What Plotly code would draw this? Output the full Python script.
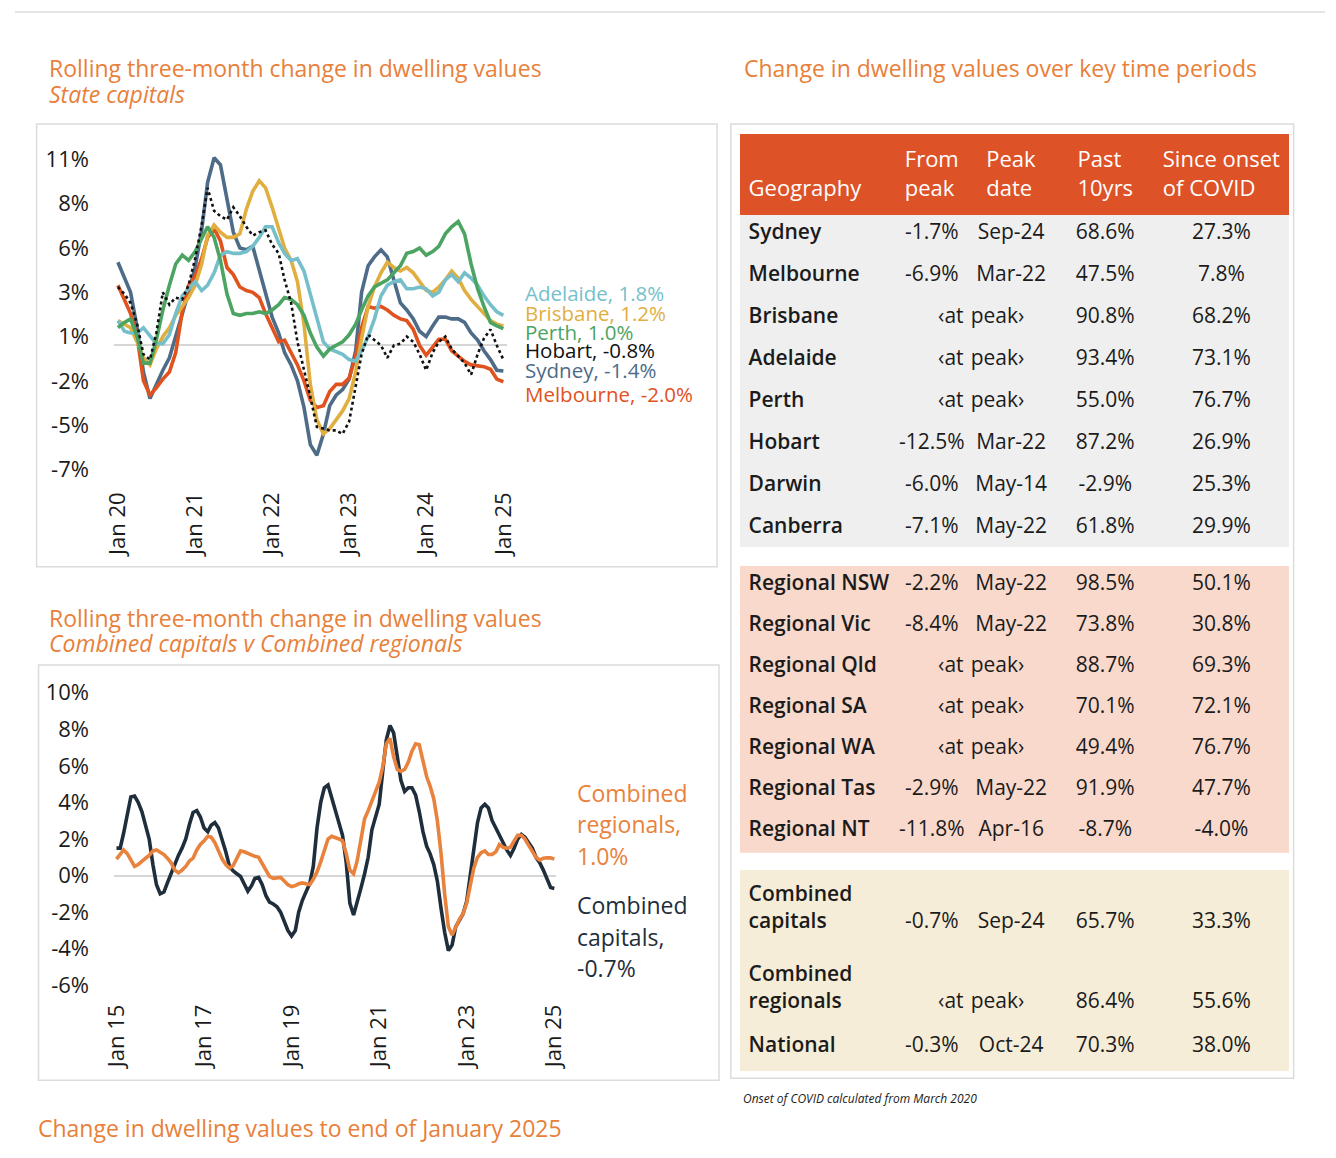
import pandas as pd
import plotly.graph_objects as go

# ======================= DATA =======================
# Rolling three-month change, state capitals (monthly, Jan-20 .. Jan-25)
cap_dates = pd.date_range("2020-01-01", "2025-01-01", freq="MS")
sydney = [4.7, 3.8, 3.0, 1.0, -1.5, -3.0, -2.2, -1.4, -0.7, 0.5,
          1.8, 3.0, 4.4, 6.5, 9.2, 10.6, 10.2, 8.3, 6.4, 5.5,
          5.4, 5.6, 4.2, 2.9, 1.6, 0.7, -0.4, -1.1, -2.0, -3.5,
          -5.6, -6.2, -5.0, -3.4, -2.8, -2.5, -1.9, -0.3, 3.0, 4.5,
          5.0, 5.4, 5.0, 3.7, 2.4, 2.0, 1.5, 0.8, 0.5, 1.1,
          1.6, 1.6, 1.5, 1.5, 1.3, 0.7, 0.3, -0.3, -0.8, -1.4, -1.45]
melbourne = [3.4, 2.6, 1.8, 0.5, -2.0, -2.8, -2.4, -1.9, -1.5, -0.4,
             1.9, 3.4, 3.9, 4.9, 6.1, 6.6, 5.9, 4.4, 4.0, 3.3,
             3.1, 3.0, 2.7, 1.8, 1.0, 0.2, 0.3, -0.4, -1.1, -2.0,
             -3.1, -3.5, -3.4, -2.6, -2.2, -2.2, -1.85, -0.6, 1.0, 2.2,
             2.1, 2.2, 2.0, 1.7, 1.5, 1.4, 0.9, 0.0, -0.55, -0.1,
             0.35, 0.35, -0.3, -0.6, -0.9, -1.1, -1.15, -1.2, -1.35, -1.9, -2.05]
brisbane = [1.4, 1.2, 1.0, 0.2, -0.7, -1.1, -0.2, 0.5, 1.0, 1.7,
            2.2, 2.7, 3.4, 4.6, 6.2, 6.8, 6.4, 6.1, 6.1, 6.3,
            7.7, 8.7, 9.3, 8.9, 7.8, 6.5, 5.5, 4.8, 3.6, 1.2,
            -2.2, -4.2, -5.0, -4.7, -4.2, -3.7, -3.0, -1.5, 0.4, 2.2,
            3.3, 4.1, 4.7, 4.4, 4.2, 4.4, 4.1, 3.6, 3.1, 3.0,
            3.3, 3.7, 4.2, 3.8, 3.1, 2.6, 2.2, 1.8, 1.4, 1.2, 1.1]
adelaide = [1.4, 0.8, 0.7, 0.7, 1.0, 0.5, 0.1, 0.1, 0.6, 1.8,
            2.8, 3.2, 3.6, 3.1, 3.4, 4.1, 5.1, 5.3, 5.2, 5.2,
            5.3, 5.6, 6.1, 6.7, 6.7, 5.8, 5.2, 4.8, 4.9, 4.2,
            2.9, 1.7, 0.2, -0.2, -0.35, -0.5, -0.8, -0.9, -0.3, 0.5,
            1.5, 2.8, 3.4, 3.6, 3.7, 3.2, 3.2, 3.3, 3.2, 2.8,
            3.0, 3.7, 4.0, 3.6, 4.1, 3.8, 3.4, 2.8, 2.3, 1.9, 1.7]
perth = [1.0, 1.3, 1.5, 0.5, -1.0, -1.0, 0.3, 2.0, 3.4, 4.6,
         5.1, 4.8, 5.3, 6.0, 6.7, 6.1, 4.8, 2.9, 1.8, 1.7,
         1.8, 1.8, 1.9, 1.8, 2.0, 2.3, 2.7, 2.6, 2.3, 1.7,
         0.7, -0.1, -0.6, -0.2, 0.0, 0.2, 0.6, 1.2, 2.0, 2.8,
         3.3, 3.5, 3.7, 4.1, 4.5, 5.2, 5.3, 5.5, 5.1, 5.3,
         5.6, 6.3, 6.7, 7.0, 6.3, 4.6, 3.2, 2.2, 1.3, 1.1, 0.95]
hobart = [3.3, 2.9, 2.4, 1.2, -0.5, -0.8, 0.7, 3.0, 2.3, 2.7,
          2.6, 3.4, 4.9, 6.8, 8.9, 7.6, 7.3, 7.1, 7.8, 7.3,
          6.7, 6.2, 6.4, 6.5, 5.7, 5.2, 3.7, 2.4, 0.2, -1.3,
          -2.9, -4.6, -4.7, -4.8, -4.8, -5.0, -4.3, -2.4, -0.5, 0.6,
          0.3, 0.0, -0.7, 0.0, 0.1, 0.5, 0.2, -0.5, -1.4, -0.4,
          0.2, 0.5, -0.2, -0.6, -1.0, -1.65, -0.5, 0.4, 0.9, 0.0, -0.8]

cap_names = ["Sydney", "Melbourne", "Brisbane", "Adelaide", "Perth", "Hobart"]
cap_values = [sydney, melbourne, brisbane, adelaide, perth, hobart]
# end-of-line labels (top to bottom)
cap_label_names = ["Adelaide", "Brisbane", "Perth", "Hobart", "Sydney", "Melbourne"]
cap_label_latest = ["1.8%", "1.2%", "1.0%", "-0.8%", "-1.4%", "-2.0%"]

top_tickvals = [-7, -4.5, -2, 0.5, 3, 5.5, 8, 10.5]
top_ticktext = ["-7%", "-5%", "-2%", "1%", "3%", "6%", "8%", "11%"]

# Combined capitals v combined regionals (monthly, Jan-15 .. Jan-25)
comb_dates = pd.date_range("2015-01-01", "2025-01-01", freq="MS")
combined_capitals = [
    1.5, 1.5, 2.3, 3.3, 4.3, 4.35, 4.0, 3.5, 2.8, 2.0,
    0.6, -0.5, -1.0, -0.9, -0.4, 0.1, 0.7, 1.1, 1.5, 2.0,
    2.8, 3.45, 3.55, 3.2, 2.6, 2.4, 2.75, 2.9, 2.6, 2.0,
    1.3, 0.5, 0.25, 0.1, -0.05, -0.45, -0.85, -0.55, -0.15, -0.1,
    -0.5, -1.1, -1.45, -1.55, -1.7, -2.0, -2.5, -3.0, -3.3, -3.0,
    -2.0, -1.35, -0.9, -0.45, 0.5, 2.6, 4.0, 4.8, 4.95, 4.3,
    3.6, 2.9, 2.2, 0.7, -1.5, -2.15, -1.5, -0.7, 0.1, 1.0,
    2.5, 3.2, 3.9, 5.8, 7.4, 8.2, 7.8, 6.5, 5.2, 4.6,
    4.8, 4.8, 4.4, 3.5, 2.4, 1.6, 1.2, 0.6, -0.3, -1.8,
    -3.1, -4.1, -3.8, -2.8, -2.4, -2.1, -1.4, 0.0, 1.4, 2.9,
    3.7, 3.9, 3.7, 3.0, 2.6, 2.2, 1.8, 1.4, 1.1, 1.5,
    2.0, 2.25, 2.1, 1.8, 1.5, 1.0, 0.7, 0.3, -0.2, -0.65,
    -0.7]
combined_regionals = [
    0.9, 1.2, 1.4, 1.2, 0.9, 0.5, 0.6, 0.8, 0.95, 1.1,
    1.35, 1.4, 1.3, 1.15, 0.95, 0.7, 0.3, 0.15, 0.3, 0.5,
    0.8, 0.95, 1.4, 1.7, 1.9, 2.15, 2.1, 1.8, 1.35, 0.9,
    0.6, 0.4, 0.55, 1.0, 1.35, 1.3, 1.2, 1.1, 1.05, 1.0,
    0.65, 0.3, -0.05, -0.15, -0.1, -0.1, -0.3, -0.5, -0.6, -0.55,
    -0.45, -0.4, -0.45, -0.5, -0.2, 0.2, 0.75, 1.3, 2.0, 2.15,
    2.1, 2.0, 1.9, 1.2, 0.3, 0.1, 0.8, 2.0, 3.1, 3.55,
    4.1, 4.6, 5.1, 6.0, 7.2, 7.5, 6.5, 5.8, 5.7, 5.8,
    6.2, 6.8, 7.2, 7.15, 6.3, 5.4, 4.9, 4.2, 3.0, 1.2,
    -1.0, -2.8, -3.25, -2.8, -2.4, -2.1, -1.5, -0.5, 0.4, 1.0,
    1.25, 1.35, 1.15, 1.15, 1.3, 1.7, 1.55, 1.5, 1.55, 1.9,
    2.2, 2.2, 2.0, 1.65, 1.3, 1.0, 0.85, 0.95, 0.97, 0.97,
    0.9]
comb_label_names = ["Combined regionals", "Combined capitals"]
comb_label_latest = ["1.0%", "-0.7%"]
bottom_tickvals = [-6, -4, -2, 0, 2, 4, 6, 8, 10]
bottom_ticktext = ["-6%", "-4%", "-2%", "0%", "2%", "4%", "6%", "8%", "10%"]

# Table: change in dwelling values over key time periods (None = at peak)
table_header = ["Geography", "From<br>peak", "Peak<br>date", "Past<br>10yrs", "Since onset<br>of COVID"]
caps_geo = ["Sydney", "Melbourne", "Brisbane", "Adelaide", "Perth", "Hobart", "Darwin", "Canberra"]
caps_from_peak = ["-1.7%", "-6.9%", None, None, None, "-12.5%", "-6.0%", "-7.1%"]
caps_peak_date = ["Sep-24", "Mar-22", None, None, None, "Mar-22", "May-14", "May-22"]
caps_10yrs = ["68.6%", "47.5%", "90.8%", "93.4%", "55.0%", "87.2%", "-2.9%", "61.8%"]
caps_covid = ["27.3%", "7.8%", "68.2%", "73.1%", "76.7%", "26.9%", "25.3%", "29.9%"]

reg_geo = ["Regional NSW", "Regional Vic", "Regional Qld", "Regional SA", "Regional WA", "Regional Tas", "Regional NT"]
reg_from_peak = ["-2.2%", "-8.4%", None, None, None, "-2.9%", "-11.8%"]
reg_peak_date = ["May-22", "May-22", None, None, None, "May-22", "Apr-16"]
reg_10yrs = ["98.5%", "73.8%", "88.7%", "70.1%", "49.4%", "91.9%", "-8.7%"]
reg_covid = ["50.1%", "30.8%", "69.3%", "72.1%", "76.7%", "47.7%", "-4.0%"]

comb_geo = ["Combined capitals", "Combined regionals", "National"]
comb_from_peak = ["-0.7%", None, "-0.3%"]
comb_peak_date = ["Sep-24", None, "Oct-24"]
comb_10yrs = ["65.7%", "86.4%", "70.3%"]
comb_covid = ["33.3%", "55.6%", "38.0%"]

# ======================= STYLE / LAYOUT =======================
W, H = 1336, 1158
def fx(p):
    return p / W
def fy(p):
    return 1 - p / H

FONT = "Open Sans"
ORANGE = "#E8803A"
TXT = "#1b1b1b"
BORDER = "#DCDCDC"
cap_colors = {"Sydney": "#4E6B88", "Melbourne": "#E0521E", "Brisbane": "#E1AF3F",
              "Adelaide": "#75BFCB", "Perth": "#4CA463", "Hobart": "#111111"}
comb_colors = {"Combined regionals": "#E8823C", "Combined capitals": "#1F2E3C"}

fig = go.Figure()

# ---- top chart lines
for name, vals in zip(cap_names, cap_values):
    dotted = name == "Hobart"
    fig.add_trace(go.Scatter(
        x=cap_dates, y=vals, mode="lines", name=name, hoverinfo="skip",
        line=dict(color=cap_colors[name], width=2.6 if dotted else 3.6,
                  dash="dot" if dotted else "solid"),
        xaxis="x", yaxis="y"))

# ---- bottom chart lines
for name, vals in [("Combined capitals", combined_capitals),
                   ("Combined regionals", combined_regionals)]:
    fig.add_trace(go.Scatter(
        x=comb_dates, y=vals, mode="lines", name=name, hoverinfo="skip",
        line=dict(color=comb_colors[name], width=3.6),
        xaxis="x2", yaxis="y2"))

# ---- tables
TBL_X = [fx(740), fx(1299)]
COLW = [160, 70, 92, 100, 137]
HEAD_FILL = "#DD5227"
GRAY = "#EFEFEF"
PINK = "#F9D9CC"
BEIGE = "#F6EDD8"
ALIGN = ["left", "center", "center", "center", "center"]
NB = "\u00a0"


def build_cols(geo, fp, pdt, ten, cov, tall=None):
    """Table columns; an at-peak entry spans the two peak columns."""
    n = len(geo)
    tall = tall or [False] * n
    c0, c1, c2, c3, c4 = [], [], [], [], []
    for i in range(n):
        pre = NB + "<br>" if tall[i] else ""
        c0.append(geo[i].replace(" ", "<br>") if tall[i] else geo[i].replace(" ", NB))
        if fp[i] is None:
            c1.append(pre + NB * 7 + "\u2039at")
            c2.append(pre + "peak\u203a" + NB * 5)
        else:
            c1.append(pre + fp[i])
            c2.append(pre + pdt[i])
        c3.append(pre + ten[i])
        c4.append(pre + cov[i])
    return [c0, c1, c2, c3, c4]


cell_font = dict(family=FONT, size=21, color=TXT, weight=[600, 400, 400, 400, 400])

# section 1: header + capitals
cols = build_cols(caps_geo, caps_from_peak, caps_peak_date, caps_10yrs, caps_covid)
fig.add_trace(go.Table(
    domain=dict(x=TBL_X, y=[fy(545), fy(126)]), columnwidth=COLW,
    header=dict(values=[NB + "<br>" + table_header[0]] + table_header[1:], height=80,
                fill_color=HEAD_FILL, line=dict(color=HEAD_FILL, width=1), align=ALIGN,
                font=dict(family=FONT, size=22, color="white")),
    cells=dict(values=cols, height=42, align=ALIGN, fill_color=GRAY,
               line=dict(color=GRAY, width=1), font=cell_font)))

# section 2: regionals (first row used as the table's header row)
cols = build_cols(reg_geo, reg_from_peak, reg_peak_date, reg_10yrs, reg_covid)
fig.add_trace(go.Table(
    domain=dict(x=TBL_X, y=[fy(856), fy(565)]), columnwidth=COLW,
    header=dict(values=[c[0] for c in cols], height=41, fill_color=PINK,
                line=dict(color=PINK, width=1), align=ALIGN, font=cell_font),
    cells=dict(values=[c[1:] for c in cols], height=41, align=ALIGN,
               fill_color=PINK, line=dict(color=PINK, width=1), font=cell_font)))

# section 3: combined capitals / regionals (tall rows)
cols = build_cols(comb_geo[:2], comb_from_peak[:2], comb_peak_date[:2],
                  comb_10yrs[:2], comb_covid[:2], tall=[True, True])
fig.add_trace(go.Table(
    domain=dict(x=TBL_X, y=[fy(1036), fy(874)]), columnwidth=COLW,
    header=dict(values=[c[0] for c in cols], height=80, fill_color=BEIGE,
                line=dict(color=BEIGE, width=1), align=ALIGN, font=cell_font),
    cells=dict(values=[c[1:] for c in cols], height=80, align=ALIGN,
               fill_color=BEIGE, line=dict(color=BEIGE, width=1), font=cell_font)))

# section 4: national
cols = build_cols(comb_geo[2:], comb_from_peak[2:], comb_peak_date[2:],
                  comb_10yrs[2:], comb_covid[2:])
fig.add_trace(go.Table(
    domain=dict(x=TBL_X, y=[fy(1078), fy(1034)]), columnwidth=COLW,
    header=dict(values=[c[0] for c in cols], height=42, fill_color=BEIGE,
                line=dict(color=BEIGE, width=1), align=ALIGN, font=cell_font),
    cells=dict(values=[[] for _ in cols], height=1, fill_color=BEIGE,
               line=dict(color=BEIGE, width=1), font=cell_font)))

# ---- axes
tick_font = dict(family=FONT, size=22, color=TXT)
common_x = dict(type="date", tickformat="%b %y", tickangle=-90, ticks="outside",
                tickcolor="rgba(0,0,0,0)", showgrid=False, showline=False, zeroline=False,
                tickfont=tick_font, fixedrange=True)
common_y = dict(ticks="outside", ticklen=20, tickcolor="rgba(0,0,0,0)", showgrid=False,
                showline=False, zeroline=True, zerolinecolor="#D6D6D6", zerolinewidth=2,
                tickfont=tick_font, fixedrange=True)

annotations = []
def text(x, y, s, size=23, color=ORANGE, anchor="left"):
    annotations.append(dict(x=fx(x), y=fy(y), xref="paper", yref="paper", text=s,
                            showarrow=False, xanchor=anchor, yanchor="middle",
                            font=dict(family=FONT, size=size, color=color)))

text(33, 58, "Rolling three-month change in dwelling values")
text(33, 84, "<i>State capitals</i>")
text(741, 58, "Change in dwelling values over key time periods")
text(33, 617, "Rolling three-month change in dwelling values")
text(33, 643, "<i>Combined capitals v Combined regionals</i>")
text(21, 1136, "Change in dwelling values to end of January 2025")
text(740, 1106, "<i>Onset of COVID calculated from March 2020</i>", size=12, color=TXT)

for name, latest, ypix in zip(cap_label_names, cap_label_latest, [287, 307, 326, 345, 365, 389]):
    text(518, ypix, f"{name}, {latest}", size=20.5, color=cap_colors[name])

for name, latest, ytop in zip(comb_label_names, comb_label_latest, [795, 909]):
    words = name.split(" ")
    lines = [words[0], words[1] + ",", latest]
    for k, ln in enumerate(lines):
        text(571, ytop + 32 * k, ln, size=23, color=comb_colors[name])

shapes = [
    dict(type="rect", xref="paper", yref="paper", x0=fx(22), x1=fx(716), y0=fy(565), y1=fy(115),
         line=dict(color=BORDER, width=1.5)),
    dict(type="rect", xref="paper", yref="paper", x0=fx(24), x1=fx(718), y0=fy(1087), y1=fy(665),
         line=dict(color=BORDER, width=1.5)),
    dict(type="rect", xref="paper", yref="paper", x0=fx(730), x1=fx(1304), y0=fy(1085), y1=fy(115),
         line=dict(color=BORDER, width=1.5)),
    dict(type="line", xref="paper", yref="paper", x0=0, x1=1, y0=fy(1), y1=fy(1),
         line=dict(color=BORDER, width=1.5)),
]

fig.update_layout(
    width=W, height=H, margin=dict(l=0, r=0, t=0, b=0),
    paper_bgcolor="white", plot_bgcolor="white", showlegend=False,
    font=dict(family=FONT, color=TXT),
    xaxis=dict(common_x, domain=[fx(101.3), fx(501.5)], range=["2019-12-15", "2025-01-17"],
               tickvals=pd.date_range("2020-01-01", "2025-01-01", freq="YS"), ticklen=8, anchor="y"),
    yaxis=dict(common_y, domain=[fy(471.4), fy(143.8)], range=[-7.3, 10.9],
               tickvals=top_tickvals, ticktext=top_ticktext, anchor="x"),
    xaxis2=dict(common_x, domain=[fx(101.4), fx(552.0)], range=["2014-12-15", "2025-01-17"],
                tickvals=pd.date_range("2015-01-01", "2025-01-01", freq="24MS"), ticklen=4, anchor="y2"),
    yaxis2=dict(common_y, domain=[fy(996.2), fy(687.4)], range=[-6.3, 10.3],
                tickvals=bottom_tickvals, ticktext=bottom_ticktext, anchor="x2"),
    annotations=annotations, shapes=shapes,
)

# remove the browser's default page margin so the 1336x1158 figure fills the window
fig.write_html("out.html", config={"displayModeBar": False},
               post_script="}); document.documentElement.style.margin = '0'; "
                           "document.body.style.margin = '0'; document.body.style.padding = '0'; "
                           "(function(){")
